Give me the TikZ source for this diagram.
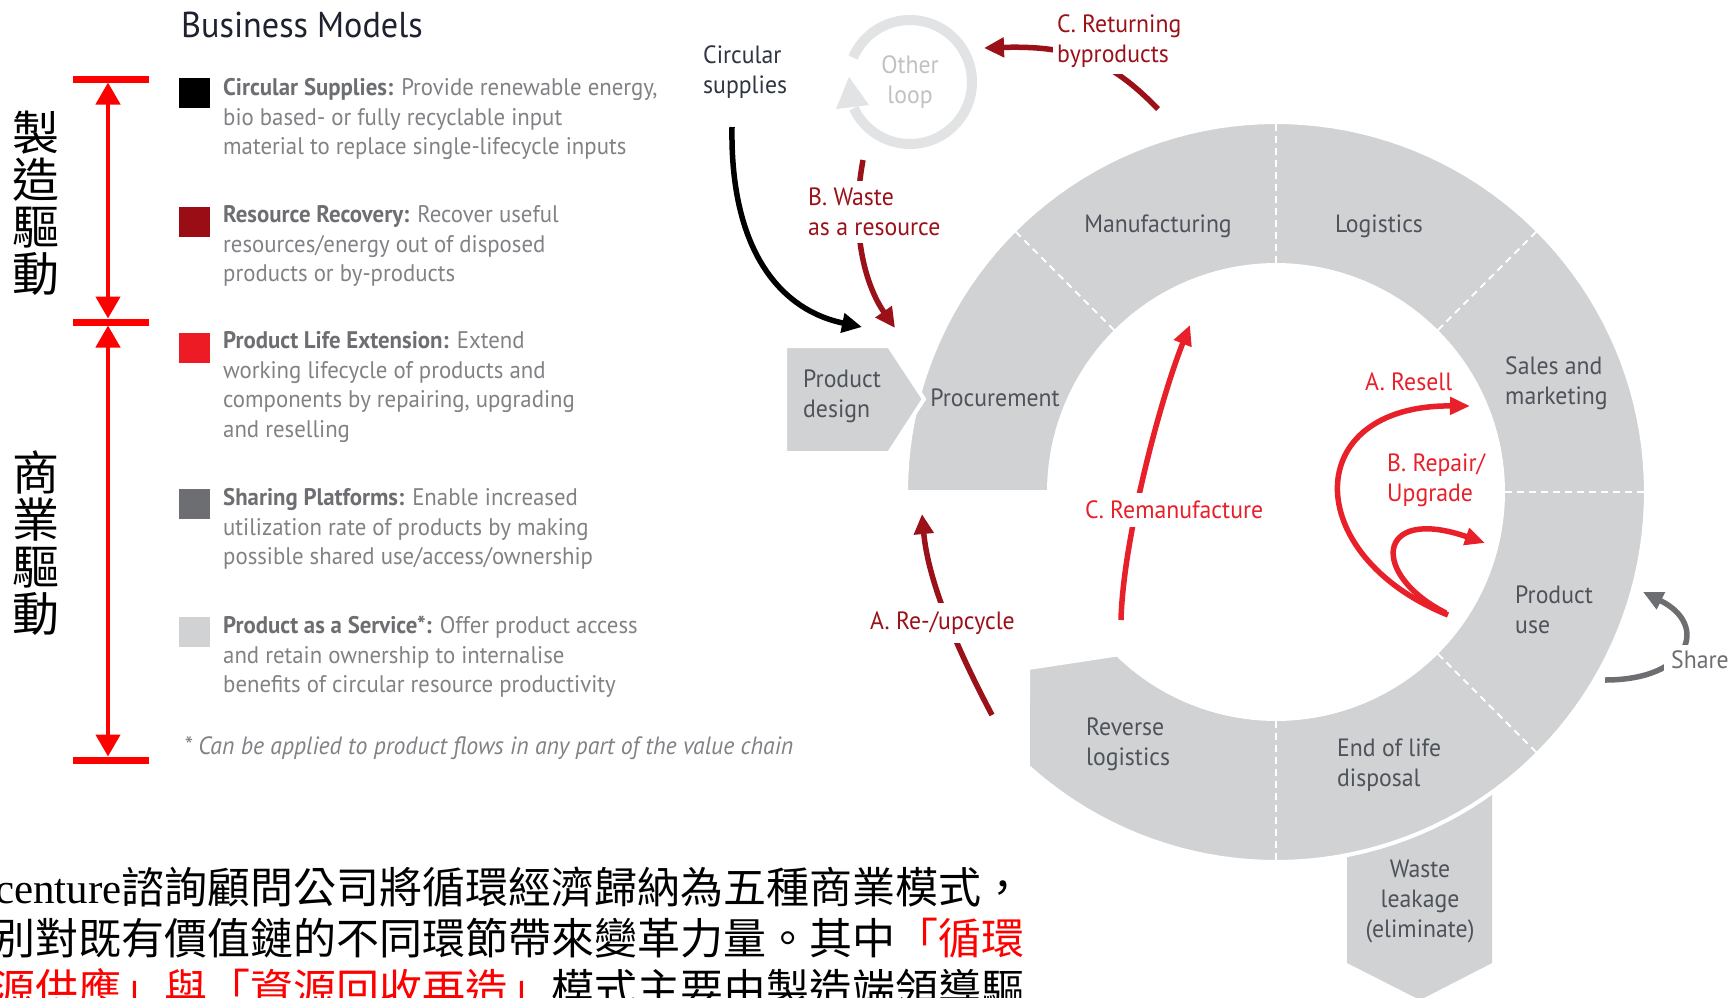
\documentclass[tikz,border=0pt]{standalone}
\usepackage{fontspec}
\setmainfont{PT Sans}[FakeStretch=0.95]
\newfontfamily\cjkf{Noto Sans CJK TC}
\newfontfamily\latserif{Liberation Serif}
\usetikzlibrary{arrows.meta}
\definecolor{ringgray}{HTML}{D1D2D4}
\definecolor{dred}{HTML}{9B1119}
\definecolor{bred}{HTML}{E8202A}
\definecolor{sgray}{HTML}{6D6E71}
\definecolor{legtext}{HTML}{808285}
\definecolor{legbold}{HTML}{6D6E71}
\definecolor{ringtext}{HTML}{4E525A}
\definecolor{loopgray}{HTML}{E2E3E4}
\definecolor{looptext}{HTML}{BFC1C4}
\definecolor{titlecol}{HTML}{1E2230}
\definecolor{supcol}{HTML}{2E3642}
\definecolor{pred}{HTML}{FF0000}
\definecolor{sqdred}{HTML}{9B0D14}
\definecolor{sqred}{HTML}{ED1C24}
\definecolor{sqgray}{HTML}{6D6E71}
\definecolor{sqlight}{HTML}{D1D2D4}
\tikzset{
  ringlab/.style={inner sep=0, text=ringtext, font=\fontsize{25}{30}\selectfont, align=left},
  leg/.style={inner sep=0, text=legtext, font=\fontsize{24}{29.5}\selectfont, align=left, anchor=west},
  sq/.style={minimum width=31pt, minimum height=30pt, inner sep=0, outer sep=0},
  redlab/.style={font=\fontsize{25}{30}\selectfont, align=left, inner sep=4pt, fill=white, anchor=west},
  flowline/.style={line width=5.5pt},
  bar/.style={draw=pred, line width=7pt},
  dbl/.style={draw=pred, line width=4.5pt, {Triangle[length=22pt,width=24pt]}-{Triangle[length=22pt,width=24pt]}, shorten <=3.5pt, shorten >=3.5pt},
  cjkv/.style={font=\cjkf\fontsize{47}{47}\selectfont, align=center, inner sep=0},
  divider/.style={white, line width=2pt, dash pattern=on 7pt off 5pt},
  zh/.style={anchor=east, inner sep=0, font=\fontsize{43}{50}\selectfont},
}
\begin{document}
\begin{tikzpicture}[x=1pt,y=-1pt]
\useasboundingbox (0,0) rectangle (1732,997);
\fill[white] (0,0) rectangle (1732,997);

% ---------- title ----------
\node[anchor=base west, inner sep=0, text=titlecol, font=\fontsize{36}{40}\selectfont] (title) at (181,37) {Business Models};

% ---------- red bracket ----------
\coordinate (bt) at (108,79);
\coordinate (bm) at (108,322);
\coordinate (bb) at (108,760);
\draw[bar] (73,79) -- (149,79);
\draw[bar] (73,322) -- (149,322);
\draw[bar] (73,760) -- (149,760);
\draw[dbl] (bt) -- (bm);
\draw[dbl] (bm) -- (bb);
\node[cjkv] (mfgdrv) at (36,203) {製\\造\\驅\\動};
\node[cjkv] (bizdrv) at (36,543) {商\\業\\驅\\動};

% ---------- legend ----------
\node[sq, fill=black] (sq1) at (194.5,93) {};
\node[sq, fill=sqdred] (sq2) at (194.5,221.5) {};
\node[sq, fill=sqred] (sq3) at (194.5,348) {};
\node[sq, fill=sqgray] (sq4) at (194.5,504) {};
\node[sq, fill=sqlight] (sq5) at (194.5,632) {};

\node[leg] (t1) at (223,119) {\textcolor{legbold}{\textbf{Circular Supplies:}} Provide renewable energy,\\bio based- or fully recyclable input\\material to replace single-lifecycle inputs};
\node[leg] (t2) at (223,246) {\textcolor{legbold}{\textbf{Resource Recovery:}} Recover useful\\resources/energy out of disposed\\products or by-products};
\node[leg] (t3) at (223,387) {\textcolor{legbold}{\textbf{Product Life Extension:}} Extend\\working lifecycle of products and\\components by repairing, upgrading\\and reselling};
\node[leg] (t4) at (223,529) {\textcolor{legbold}{\textbf{Sharing Platforms:}} Enable increased\\utilization rate of products by making\\possible shared use/access/ownership};
\node[leg] (t5) at (223,657) {\textcolor{legbold}{\textbf{Product as a Service*:}} Offer product access\\and retain ownership to internalise\\benefits of circular resource productivity};
\node[anchor=west, inner sep=0, text=legtext, font=\itshape\fontsize{25}{29}\selectfont] (fn) at (184,748) {* Can be applied to product flows in any part of the value chain};

% ---------- bottom Chinese paragraph ----------
\node[zh] (p1) at (1025,887) {{\latserif Accenture}{\cjkf 諮詢顧問公司將循環經濟歸納為五種商業模式，}};
\node[zh] (p2) at (1025,938) {{\cjkf 分別對既有價值鏈的不同環節帶來變革力量。其中\textcolor{pred}{「循環}}};
\node[zh] (p3) at (1025,989) {{\cjkf \textcolor{pred}{資源供應」與「資源回收再造」}模式主要由製造端領導驅}};

% ---------- value chain ring ----------
\fill[ringgray] (1347,800) -- (1347,963) -- (1420,1000) -- (1492,963) -- (1492,760) -- cycle;
\filldraw[fill=ringgray, draw=white, line width=4pt]
  plot[domain=180:-132.1, samples=140] ({1276+370*cos(\x)},{492-370*sin(\x)})
  -- (1028,668)
  -- plot[domain=-134.3:180, samples=140] ({1276+227*cos(\x)},{492-227*sin(\x)})
  -- cycle;
\foreach \a in {135,90,45,0,-45,-90}
  \draw[divider] ({1276+229*cos(\a)},{492-229*sin(\a)}) -- ({1276+368*cos(\a)},{492-368*sin(\a)});
\filldraw[fill=ringgray, draw=white, line width=4pt] (785,346) -- (889,346) -- (924,399) -- (889,453) -- (785,453) -- cycle;

\node[ringlab, anchor=center] (manu) at (1158,226) {Manufacturing};
\node[ringlab, anchor=center] (logi) at (1379,226) {Logistics};
\node[ringlab, anchor=center] (proc) at (995,398) {Procurement};
\node[ringlab, anchor=west] (pdes) at (803,396) {Product\\design};
\node[ringlab, anchor=west] (sales) at (1505,383) {Sales and\\marketing};
\node[ringlab, anchor=west] (puse) at (1515,610) {Product\\use};
\node[ringlab, anchor=west] (eol) at (1337,765) {End of life\\disposal};
\node[ringlab, anchor=west] (rev) at (1086,744) {Reverse\\logistics};
\node[ringlab, anchor=center, align=center] (leak) at (1420,901) {Waste\\leakage\\(eliminate)};

% ---------- other loop ----------
\draw[loopgray, line width=10pt] plot[domain=156.7:-155, samples=90] ({910+62*cos(\x)},{82-62*sin(\x)});
\fill[loopgray] (849,77) -- (836,109) -- (869,105) -- cycle;
\node[ringlab, anchor=center, align=center, text=looptext] (oloop) at (910,82) {Other\\loop};
\node[ringlab, anchor=west, text=supcol] (csup) at (703,72) {Circular\\supplies};

% ---------- flows ----------
\coordinate (csA) at (732,127);
\coordinate (csB) at (862,327);
\draw[flowline, black, -{Triangle[length=20pt,width=19pt]}] (csA) .. controls (730,250) and (780,310) .. (csB);

\coordinate (bwA) at (863,160);
\coordinate (bwB) at (895,328);
\draw[flowline, dred, -{Triangle[length=20pt,width=19pt]}] (bwA) .. controls (850,230) and (865,285) .. (bwB);
\node[redlab, text=dred, inner ysep=7pt] (bwL) at (804,212) {B. Waste\\as a resource};

\coordinate (crA) at (1158,109);
\coordinate (crB) at (984,48);
\draw[flowline, dred, -{Triangle[length=20pt,width=19pt]}] (crA) .. controls (1115,65) and (1080,45) .. (crB);
\node[redlab, text=dred, inner ysep=7pt] (crL) at (1053,41) {C. Returning\\byproducts};

\coordinate (ruA) at (992,715);
\coordinate (ruB) at (922,514);
\draw[flowline, dred, -{Triangle[length=20pt,width=19pt]}] (ruA) .. controls (955,645) and (928,580) .. (ruB);
\node[redlab, text=dred, inner ysep=9pt] (ruL) at (866,623) {A. Re-/upcycle};

\coordinate (rmA) at (1121,620);
\coordinate (rmB) at (1190,325);
\draw[flowline, bred, -{Triangle[length=20pt,width=18pt]}] (rmA) .. controls (1123,540) and (1160,400) .. (rmB);
\node[redlab, text=bred, inner ysep=8pt] (rmL) at (1081,510) {C. Remanufacture};

\coordinate (rsA) at (1448,615);
\coordinate (rsB) at (1470,406);
\draw[flowline, bred, -{Triangle[length=20pt,width=17pt]}] (rsA) .. controls (1300,555) and (1300,405) .. (rsB);
\node[redlab, text=bred, fill=none] (rsL) at (1361,382) {A. Resell};

\coordinate (rpA) at (1446,613);
\coordinate (rpB) at (1485,543);
\draw[flowline, bred, -{Triangle[length=20pt,width=17pt]}] (rpA) .. controls (1370,575) and (1375,505) .. (rpB);
\node[redlab, text=bred, fill=none] (rpL) at (1383,480) {B. Repair/\\Upgrade};

\coordinate (shA) at (1605,680);
\coordinate (shB) at (1643,592);
\draw[flowline, sgray, -{Triangle[length=20pt,width=18pt]}] (shA) .. controls (1690,680) and (1710,625) .. (shB);
\node[redlab, text=sgray, inner xsep=7pt, inner ysep=6pt] (shL) at (1664,660) {Share};

\end{tikzpicture}
\end{document}
